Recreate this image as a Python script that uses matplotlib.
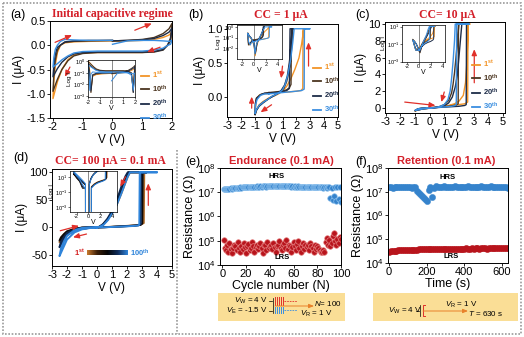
import numpy as np
import matplotlib
matplotlib.use("Agg")
import matplotlib.pyplot as plt
import matplotlib.ticker as mticker
from matplotlib.colors import LinearSegmentedColormap
from matplotlib.patches import Rectangle

plt.rcParams.update({
    "font.family": ["Liberation Sans", "DejaVu Sans"],
    "mathtext.fontset": "custom",
    "mathtext.rm": "Liberation Sans",
    "mathtext.it": "Liberation Sans:italic",
    "mathtext.bf": "Liberation Sans:bold",
    "axes.unicode_minus": False,
    "axes.linewidth": 0.7,
    "xtick.direction": "out", "ytick.direction": "out",
    "xtick.major.size": 2, "ytick.major.size": 2,
    "xtick.major.width": 0.6, "ytick.major.width": 0.6,
    "xtick.major.pad": 1.2, "ytick.major.pad": 1.2,
    "xtick.labelsize": 8, "ytick.labelsize": 8,
})

# ---------------------------------------------------------------------------
# Data
# ---------------------------------------------------------------------------

CYC_LABELS = [r"1$^{\mathbf{st}}$", r"10$^{\mathbf{th}}$",
              r"20$^{\mathbf{th}}$", r"30$^{\mathbf{th}}$"]

# (a) initial capacitive regime, I in uA
A_V = [0, 0.5, 1.0, 1.4, 1.7, 1.9, 2.0, 1.95, 1.85, 1.7, 1.4, 1.0, 0.5, 0,
       -0.5, -1.0, -1.3, -1.5, -1.7, -1.85, -2.0, -1.97, -1.92, -1.85,
       -1.75, -1.6, -1.3, -0.8, 0]
A_I_1ST = [0.08, 0.09, 0.10, 0.12, 0.16, 0.21, 0.27, 0.08, 0.003, -0.08,
           -0.13, -0.15, -0.15, -0.15, -0.15, -0.16, -0.20, -0.30, -0.50,
           -0.75, -1.10, -0.75, -0.40, -0.15, -0.002, 0.05, 0.07, 0.08, 0.09]
A_I_10TH = [0.09, 0.10, 0.12, 0.16, 0.24, 0.34, 0.45, 0.15, 0.002, -0.10,
            -0.14, -0.15, -0.15, -0.15, -0.15, -0.17, -0.22, -0.32, -0.50,
            -0.70, -0.95, -0.60, -0.30, -0.10, 0.003, 0.06, 0.08, 0.09, 0.10]
A_I_20TH = [0.09, 0.10, 0.11, 0.14, 0.20, 0.27, 0.35, 0.10, -0.002, -0.09,
            -0.13, -0.14, -0.14, -0.14, -0.14, -0.15, -0.18, -0.24, -0.35,
            -0.48, -0.65, -0.40, -0.18, -0.04, 0.002, 0.07, 0.09, 0.10, 0.10]
A_I_30TH = [0.02, 0.09, 0.10, 0.10, 0.09, 0.08, 0.10, 0.02, -0.003, -0.06,
            -0.10, -0.12, -0.12, -0.12, -0.12, -0.13, -0.16, -0.22, -0.30,
            -0.38, -0.45, -0.25, -0.08, 0.003, 0.08, 0.12, 0.11, 0.10, 0.10]

# (b) CC = 1 uA
B_V_1ST = [0, 0.5, 1.0, 1.5, 2.0, 2.35, 2.48, 2.5, 2.7, 2.55, 2.4, 2.2, 1.9,
           1.6, 1.3, 1.0, 0.7, 0.4, 0.25, 0.0, -0.4, -0.7, -0.9, -1.0, -0.97,
           -0.9, -0.7, -0.4, 0]
B_I_1ST = [0.05, 0.06, 0.07, 0.07, 0.08, 0.09, 0.12, 1.0, 1.0, 1.0, 0.78,
           0.57, 0.40, 0.26, 0.15, 0.08, 0.04, 0.01, 0.002, -0.02, -0.07,
           -0.12, -0.19, -0.26, -0.12, -0.03, 0.02, 0.04, 0.05]
B_V_10TH = [0, 0.5, 1.0, 1.3, 1.5, 1.62, 1.65, 1.8, 1.75, 1.7, 1.6, 1.45,
            1.3, 1.1, 0.8, 0.5, 0.25, 0, -0.4, -0.7, -0.9, -1.0, -0.97,
            -0.9, -0.6, -0.3, 0]
B_I_10TH = [0.06, 0.07, 0.08, 0.10, 0.13, 0.18, 1.0, 1.0, 1.0, 0.80, 0.55,
            0.35, 0.22, 0.12, 0.06, 0.03, 0.003, -0.03, -0.08, -0.13, -0.20,
            -0.27, -0.10, -0.02, 0.03, 0.05, 0.06]
B_V_20TH = [0, 0.5, 1.0, 1.3, 1.5, 1.55, 1.75, 1.7, 1.62, 1.5, 1.35, 1.15,
            0.9, 0.6, 0.3, 0, -0.4, -0.7, -0.9, -1.0, -0.97, -0.9, -0.6,
            -0.3, 0]
B_I_20TH = [0.05, 0.06, 0.07, 0.09, 0.12, 1.0, 1.0, 1.0, 0.75, 0.50, 0.30,
            0.17, 0.09, 0.04, 0.004, -0.03, -0.09, -0.14, -0.20, -0.26,
            -0.10, -0.03, 0.03, 0.05, 0.05]
B_V_30TH = [0, 0.5, 1.0, 1.5, 2.0, 2.4, 2.58, 2.6, 3.0, 2.4, 1.85, 1.75,
            1.6, 1.4, 1.2, 1.0, 0.7, 0.4, 0.2, 0, -0.4, -0.7, -0.9, -1.0,
            -0.97, -0.85, -0.6, -0.3, 0]
B_I_30TH = [0.04, 0.05, 0.06, 0.07, 0.08, 0.09, 0.11, 1.0, 1.0, 1.0, 1.0,
            0.80, 0.55, 0.33, 0.18, 0.10, 0.05, 0.02, 0.003, -0.03, -0.08,
            -0.13, -0.19, -0.25, -0.12, -0.04, 0.02, 0.04, 0.04]

# (c) CC = 10 uA
C_V_1ST = [0, 0.5, 1.0, 1.5, 2.0, 2.4, 2.6, 2.62, 2.75, 2.65, 2.6, 2.55,
           2.45, 2.3, 2.0, 1.7, 1.3, 1.0, 0.6, 0.2, 0, -0.4, -0.7, -1.0,
           -0.8, -0.5, 0]
C_I_1ST = [0.02, 0.10, 0.20, 0.30, 0.40, 0.50, 0.70, 10, 10, 10, 8.0, 5.5,
           3.0, 1.5, 0.8, 0.5, 0.3, 0.2, 0.08, 0.01, -0.02, -0.10, -0.20,
           -0.35, -0.10, -0.02, 0.02]
C_V_10TH = [0, 0.5, 1.0, 1.5, 1.8, 1.95, 1.97, 2.1, 2.0, 1.9, 1.8, 1.7,
            1.6, 1.5, 1.3, 1.0, 0.6, 0.2, 0, -0.4, -0.7, -1.0, -0.8, -0.5, 0]
C_I_10TH = [0.02, 0.08, 0.15, 0.25, 0.35, 0.50, 10, 10, 10, 8.0, 6.0, 4.2,
            2.8, 1.8, 0.9, 0.4, 0.12, 0.02, -0.03, -0.10, -0.20, -0.35,
            -0.12, -0.03, 0.02]
C_V_20TH = [0, 0.5, 1.0, 1.5, 2.0, 2.4, 2.5, 2.52, 2.65, 2.4, 2.2, 2.1,
            2.0, 1.9, 1.75, 1.55, 1.3, 1.0, 0.6, 0.2, 0, -0.4, -0.7, -1.0,
            -0.8, -0.5, 0]
C_I_20TH = [0.02, 0.05, 0.10, 0.15, 0.20, 0.30, 0.40, 10, 10, 10, 10, 8.0,
            6.0, 4.0, 2.5, 1.3, 0.6, 0.25, 0.08, 0.01, -0.02, -0.10, -0.20,
            -0.30, -0.10, -0.02, 0.02]
C_V_30TH = [0, 0.5, 1.0, 1.5, 1.75, 1.82, 1.85, 2.7, 1.75, 1.7, 1.6, 1.5,
            1.4, 1.25, 1.0, 0.6, 0.2, 0, -0.4, -0.7, -1.0, -0.8, -0.5, 0]
C_I_30TH = [0.02, 0.06, 0.12, 0.20, 0.30, 0.45, 10, 10, 10, 8.0, 5.5, 3.5,
            2.0, 1.0, 0.4, 0.10, 0.02, -0.02, -0.10, -0.20, -0.30, -0.10,
            -0.02, 0.02]

# (d) CC = 100 uA, cycles 1 -> 100
D_V_1 = [0, 0.5, 1.0, 1.5, 2.0, 2.5, 2.9, 3.12, 3.15, 3.3, 2.6, 2.2, 2.05,
         1.85, 1.6, 1.3, 1.0, 0.7, 0.4, 0.15, 0, -0.5, -1.0, -1.5, -2.0,
         -2.5, -2.4, -2.2, -2.0, -1.5, -1.0, -0.5, 0]
D_I_1 = [0, 0.5, 1.2, 2.0, 2.8, 3.8, 5.0, 8.0, 100, 100, 100, 100, 92, 78,
         60, 40, 26, 14, 5, 1, 0, -0.8, -2, -5, -11, -27, -20, -13, -8, -3,
         -0.5, 0.3, 0]
D_V_2 = [0, 0.5, 1.0, 1.5, 2.0, 2.5, 2.9, 3.02, 3.05, 3.3, 2.5, 2.1, 1.95,
         1.75, 1.5, 1.25, 1.0, 0.7, 0.4, 0.15, 0, -0.5, -1.0, -1.5, -2.0,
         -2.5, -2.4, -2.2, -2.0, -1.5, -1.0, -0.5, 0]
D_I_2 = [0, 0.4, 1.0, 1.8, 2.5, 3.3, 4.5, 7.0, 100, 100, 100, 100, 93, 78,
         58, 40, 27, 14, 5, 1, 0, -0.8, -2, -4.5, -10, -24, -18, -12, -7,
         -2.5, -0.3, 0.3, 0]
D_V_3 = [0, 0.5, 1.0, 1.5, 2.0, 2.5, 2.8, 2.92, 2.95, 3.3, 2.5, 2.05, 1.9,
         1.7, 1.45, 1.2, 1.0, 0.7, 0.4, 0.15, 0, -0.5, -1.0, -1.5, -2.0,
         -2.5, -2.4, -2.2, -2.0, -1.5, -1.0, -0.5, 0]
D_I_3 = [0, 0.4, 0.9, 1.6, 2.3, 3.2, 4.2, 6.0, 100, 100, 100, 100, 93, 80,
         60, 42, 30, 16, 6, 1.2, 0, -0.9, -2.5, -6, -14, -36, -26, -17, -10,
         -3.5, -0.5, 0.3, 0]
D_V_4 = [0, 0.5, 1.0, 1.5, 2.0, 2.4, 2.75, 2.82, 2.85, 4.0, 2.6, 2.2, 2.05,
         1.85, 1.6, 1.3, 1.05, 0.75, 0.45, 0.15, 0, -0.5, -1.0, -1.5, -2.0,
         -2.5, -2.4, -2.2, -2.0, -1.5, -1.0, -0.5, 0]
D_I_4 = [0, 0.3, 0.8, 1.4, 2.0, 2.6, 3.5, 5.0, 100, 100, 100, 100, 92, 78,
         60, 40, 27, 14, 5, 1, 0, -1.2, -3.5, -9, -22, -52, -38, -25, -15,
         -5, -1, 0.2, 0]

# (e) endurance, 100 cycles; HRS in 1e7 ohm, LRS in 1e4 ohm
E_HRS = [1.30, 1.35, 1.30, 1.40, 1.35, 1.40, 1.45, 1.40, 1.50, 1.45,
         1.50, 1.55, 1.50, 1.55, 1.60, 1.55, 1.60, 1.60, 1.65, 1.60,
         1.60, 1.65, 1.70, 1.65, 1.70, 1.70, 1.65, 1.70, 1.75, 1.70,
         1.70, 1.75, 1.70, 1.75, 1.80, 1.75, 1.70, 1.75, 1.80, 1.75,
         1.80, 1.75, 1.80, 1.80, 1.75, 1.80, 1.85, 1.80, 1.75, 1.80,
         1.80, 1.75, 1.80, 1.80, 1.75, 1.80, 1.75, 1.70, 1.75, 1.70,
         1.75, 1.70, 1.70, 1.75, 1.70, 1.65, 1.70, 1.70, 1.65, 1.70,
         1.65, 1.70, 1.65, 1.65, 1.60, 1.65, 1.60, 1.65, 1.60, 1.60,
         1.60, 1.65, 1.60, 1.60, 1.55, 1.60, 1.60, 1.55, 1.60, 1.60,
         0.60, 1.50, 0.50, 0.70, 1.60, 0.45, 1.70, 0.55, 1.60, 0.40]
E_LRS = [11, 5, 4, 6.5, 3.5, 8, 4.5, 3, 5, 7,
         6, 4, 9, 5, 3.5, 6, 4.5, 8, 5.5, 3,
         6, 7.5, 4, 5, 9, 6, 3.5, 5.5, 7, 4.5,
         6, 8, 5, 3, 7, 6.5, 4, 9, 5, 6,
         7, 4.5, 8, 5.5, 3.5, 6, 7, 10, 5, 4,
         6.5, 8, 5, 11, 4.5, 7, 6, 3.5, 5.5, 9,
         6, 4, 7.5, 10, 5, 3.5, 6, 8, 4.5, 7,
         5.5, 6.5, 4, 8, 6, 5, 3.5, 7, 4.5, 6,
         5, 4, 3.5, 3.5, 4, 3.5, 9, 13, 7, 11,
         6, 8, 15, 20, 10, 7, 12, 8, 14, 12]

# (f) retention, every 10 s from 0 to 630 s
F_HRS = [1.55, 1.60, 1.50, 1.60, 1.55, 1.60, 1.65, 1.55, 1.60, 1.55,
         1.60, 1.55, 1.50, 1.60, 1.60, 1.10, 0.90, 0.75, 0.60, 0.50,
         0.40, 1.20, 1.60, 0.60, 1.50, 1.70, 1.65, 1.60, 1.65, 1.70,
         1.65, 1.60, 1.65, 1.65, 1.60, 1.70, 1.65, 1.60, 1.65, 1.65,
         1.60, 1.65, 1.70, 1.65, 1.60, 1.65, 1.65, 1.60, 1.65, 1.70,
         1.65, 1.60, 1.65, 1.65, 1.70, 1.65, 1.60, 1.65, 1.65, 1.60,
         1.65, 1.60, 1.55, 1.50]
F_LRS = [3.0, 3.1, 3.2, 3.3, 3.3, 3.4, 3.4, 3.5, 3.5, 3.5,
         3.6, 3.6, 3.6, 3.7, 3.7, 3.7, 3.8, 3.8, 3.9, 4.0,
         3.9, 3.8, 3.8, 3.8, 3.8, 3.9, 3.8, 3.9, 3.9, 3.9,
         3.9, 4.0, 3.9, 4.0, 4.0, 3.9, 4.0, 4.0, 4.0, 4.0,
         4.0, 4.1, 4.0, 4.0, 4.1, 4.0, 4.1, 4.1, 4.0, 4.1,
         4.1, 4.1, 4.0, 4.1, 4.1, 4.1, 4.1, 4.2, 4.1, 4.1,
         4.1, 4.2, 4.1, 4.2]

# ---------------------------------------------------------------------------
# Style
# ---------------------------------------------------------------------------

ORANGE = "#F29427"
BROWN = "#4B3520"
NAVY = "#1D2C48"
BLUE = "#3A8EE0"
ARROW_RED = "#E0302A"
TITLE_RED = "#D4202A"
HRS_BLUE = "#3583CC"
LRS_RED = "#B8141C"
CYC_COLORS = [ORANGE, BROWN, NAVY, BLUE]
GRAD = LinearSegmentedColormap.from_list(
    "cyc", ["#C97B2E", "#3A1E08", "#050505", "#0F2B58", "#2F84DA"])

W, H = 524, 337
fig = plt.figure(figsize=(W / 100, H / 100), dpi=100)


def box(l, t, r, b):
    """Axes from pixel edges (origin top-left)."""
    return fig.add_axes([l / W, 1 - b / H, (r - l) / W, (b - t) / H])


def arrow(ax, tail, head):
    ax.annotate("", xy=head, xytext=tail,
                arrowprops=dict(arrowstyle="-|>,head_length=0.35,head_width=0.15",
                                color=ARROW_RED, lw=0.9, shrinkA=0, shrinkB=0))


def inset(l, t, r, b, curves, xlim, ylim, yticks, xticks):
    ia = box(l, t, r, b)
    for v, i, c in curves:
        ia.plot(v, np.abs(i), color=c, lw=0.7)
    ia.set_yscale("log")
    ia.axvline(0, color="#777777", lw=0.6, zorder=0)
    ia.set_xlim(*xlim)
    ia.set_ylim(*ylim)
    ia.set_yticks(yticks)
    ia.yaxis.set_minor_locator(mticker.NullLocator())
    ia.set_xticks(xticks)
    ia.tick_params(labelsize=4, length=1.2, width=0.4, pad=0.6)
    ia.set_ylabel("Log I", fontsize=4.5, labelpad=0.5)
    ia.set_xlabel("V", fontsize=5, labelpad=0)
    for s in ia.spines.values():
        s.set_linewidth(0.5)
    return ia


def cycle_legend(ax, px, py, axbox):
    l, t, r, b = axbox
    leg = ax.legend(loc="upper left",
                    bbox_to_anchor=((px - l) / (r - l), (b - py) / (b - t)),
                    frameon=False, handlelength=1.0,
                    handletextpad=0.4, labelspacing=0.4, borderpad=0,
                    borderaxespad=0, labelcolor=CYC_COLORS,
                    prop={"weight": "bold", "size": 5.5})
    for ln in leg.get_lines():
        ln.set_linewidth(1.3)


def log_decades(ax):
    ax.set_ylim(1e4, 1e8)
    ax.set_yticks([1e4, 1e5, 1e6, 1e7, 1e8])
    ax.yaxis.set_minor_locator(mticker.NullLocator())


# ---------------------------------------------------------------------------
# (a)
# ---------------------------------------------------------------------------
BOX_A = (50, 21, 172, 118)
ax = box(*BOX_A)
a_curves = [(A_V, i, c) for i, c in zip([A_I_1ST, A_I_10TH, A_I_20TH, A_I_30TH], CYC_COLORS)]
for (v, i, c), lab in zip(a_curves, CYC_LABELS):
    ax.plot(v, i, color=c, lw=1.0, label=lab)
ax.set_xlim(-2.1, 2.0)
ax.set_ylim(-1.5, 0.5)
ax.set_xticks([-2, -1, 0, 1, 2])
ax.set_yticks([-1.5, -1.0, -0.5, 0.0, 0.5])
ax.yaxis.set_major_formatter(mticker.FormatStrFormatter("%.1f"))
ax.set_xlabel("V (V)", fontsize=8.5, labelpad=1)
ax.set_ylabel("I (μA)", fontsize=8.5, labelpad=1)
arrow(ax, (-1.93, 0.06), (-1.36, 0.21))
arrow(ax, (0.75, 0.31), (1.32, 0.45))
arrow(ax, (1.6, -0.04), (1.16, -0.14))
arrow(ax, (-1.43, -0.45), (-1.6, -0.65))
cycle_legend(ax, 141, 70, BOX_A)
inset(88, 60, 135, 97, a_curves, (-2, 2), (8e-4, 1.3),
      [1e0, 1e-1, 1e-2, 1e-3], [-2, -1, 0, 1, 2])

# ---------------------------------------------------------------------------
# (b)
# ---------------------------------------------------------------------------
BOX_B = (227, 24, 338, 117)
ax = box(*BOX_B)
b_curves = list(zip([B_V_1ST, B_V_10TH, B_V_20TH, B_V_30TH],
                    [B_I_1ST, B_I_10TH, B_I_20TH, B_I_30TH], CYC_COLORS))
for (v, i, c), lab in zip(b_curves, CYC_LABELS):
    ax.plot(v, i, color=c, lw=1.0, label=lab)
ax.set_xlim(-3.05, 5.05)
ax.set_ylim(-0.3, 1.07)
ax.set_xticks(range(-3, 6))
ax.set_yticks([0.0, 0.5, 1.0])
ax.yaxis.set_major_formatter(mticker.FormatStrFormatter("%.1f"))
ax.set_xlabel("V (V)", fontsize=8.5, labelpad=1)
ax.set_ylabel("I (μA)", fontsize=8.5, labelpad=1)
arrow(ax, (-1.25, -0.17), (-1.25, 0.0))
arrow(ax, (0.2, -0.12), (-0.6, -0.23))
arrow(ax, (1.0, 0.45), (0.9, 0.27))
arrow(ax, (2.9, 0.45), (2.9, 0.8))
cycle_legend(ax, 313, 62, BOX_B)
inset(237, 25, 282, 59, b_curves, (-2.8, 4.7), (1e-3, 1.5),
      [1e0, 1e-1, 1e-2], [-2, 0, 2, 4])

# ---------------------------------------------------------------------------
# (c)
# ---------------------------------------------------------------------------
BOX_C = (385, 22, 505, 113)
ax = box(*BOX_C)
c_curves = list(zip([C_V_1ST, C_V_10TH, C_V_20TH, C_V_30TH],
                    [C_I_1ST, C_I_10TH, C_I_20TH, C_I_30TH], CYC_COLORS))
for (v, i, c), lab in zip(c_curves, CYC_LABELS):
    ax.plot(v, i, color=c, lw=1.0, label=lab)
ax.set_xlim(-3.05, 5.15)
ax.set_ylim(-0.6, 10.24)
ax.set_xticks(range(-3, 6))
ax.set_yticks(range(0, 11, 2))
ax.set_xlabel("V (V)", fontsize=8.5, labelpad=1)
ax.set_ylabel("I (μA)", fontsize=8.5, labelpad=1)
arrow(ax, (-1.7, 0.7), (0.4, 0.3))
arrow(ax, (0.6, -1.2), (-0.3, -1.0))
arrow(ax, (1.0, 1.9), (0.8, 0.7))
arrow(ax, (3.05, 3.0), (3.05, 7.0))
cycle_legend(ax, 472, 59, BOX_C)
inset(402, 25, 445, 62, c_curves, (-2.8, 4.4), (9e-4, 15),
      [1e1, 1e-1, 1e-3], [-2, 0, 2, 4])

# ---------------------------------------------------------------------------
# (d)
# ---------------------------------------------------------------------------
BOX_D = (52, 169, 172, 266)
ax = box(*BOX_D)
d_colors = [GRAD(0.05), GRAD(0.45), GRAD(0.72), GRAD(1.0)]
d_curves = list(zip([D_V_1, D_V_2, D_V_3, D_V_4],
                    [D_I_1, D_I_2, D_I_3, D_I_4], d_colors))
for v, i, c in d_curves:
    ax.plot(v, i, color=c, lw=1.4)
ax.set_xlim(-3, 5)
ax.set_ylim(-70, 106)
ax.set_xticks(range(-3, 6))
ax.set_yticks([-50, 0, 50, 100])
ax.set_xlabel("V (V)", fontsize=8.5, labelpad=1)
ax.set_ylabel("I (μA)", fontsize=8.5, labelpad=1)
arrow(ax, (-2.45, -6), (-1.2, 3))
arrow(ax, (-0.7, -12), (-1.6, -18))
arrow(ax, (1.9, 92), (1.55, 74))
arrow(ax, (3.42, 40), (3.42, 80))
inset(70, 171, 117, 212, d_curves, (-3.1, 4.8), (2e-4, 60),
      [1e1, 1e-1, 1e-3], [-2, 0, 2, 4])
cb = box(87, 250, 128, 255)
cb.imshow(np.linspace(0, 1, 256)[None, :], aspect="auto", cmap=GRAD)
cb.set_axis_off()

# ---------------------------------------------------------------------------
# (e)
# ---------------------------------------------------------------------------
ax = box(220, 168, 341, 265)
cycles = np.arange(1, len(E_HRS) + 1)
ax.semilogy(cycles, np.array(E_HRS) * 1e7, "o", ms=4, mfc=HRS_BLUE,
            mec="#8EC2EE", mew=0.5)
ax.semilogy(cycles, np.array(E_LRS) * 1e4, "o", ms=4, mfc=LRS_RED,
            mec="#E58080", mew=0.5)
ax.set_xlim(-2, 100)
log_decades(ax)
ax.set_xticks(range(0, 101, 20))
ax.set_xlabel("Cycle number (N)", fontsize=9, labelpad=0.5)
ax.set_ylabel("Resistance (Ω)", fontsize=9, labelpad=0.5)
ax.text(0.47, 0.91, "HRS", transform=ax.transAxes, ha="center", va="center",
        fontsize=5.5, fontweight="bold")
ax.text(0.51, 0.075, "LRS", transform=ax.transAxes, ha="center", va="center",
        fontsize=5.5, fontweight="bold")

# ---------------------------------------------------------------------------
# (f)
# ---------------------------------------------------------------------------
ax = box(388, 168, 508, 263)
times = np.arange(0, 10 * len(F_HRS), 10)
ax.semilogy(times, np.array(F_HRS) * 1e7, "o", ms=4.5, mfc=HRS_BLUE,
            mec=HRS_BLUE, mew=0.3)
ax.semilogy(times, np.array(F_LRS) * 1e4, "o", ms=4.5, mfc=LRS_RED,
            mec=LRS_RED, mew=0.3)
ax.set_xlim(-5, 632)
log_decades(ax)
ax.set_xticks([0, 200, 400, 600])
ax.set_xlabel("Time (s)", fontsize=9, labelpad=0.5)
ax.set_ylabel("Resistance (Ω)", fontsize=9, labelpad=0.5)
ax.text(0.5, 0.9, "HRS", transform=ax.transAxes, ha="center", va="center",
        fontsize=5.5, fontweight="bold")
ax.text(0.525, 0.066, "LRS", transform=ax.transAxes, ha="center", va="center",
        fontsize=5.5, fontweight="bold")

# ---------------------------------------------------------------------------
# Overlay: frames, panel letters, titles, schematics
# ---------------------------------------------------------------------------
ov = fig.add_axes([0, 0, 1, 1])
ov.set_xlim(0, W)
ov.set_ylim(H, 0)
ov.set_axis_off()

dot = dict(color="#9A9A9A", lw=1.2, ls=(0, (1, 1)))
ov.add_patch(Rectangle((2.5, 2.5), 518, 331, fill=False, **dot))
ov.plot([177, 177], [150, 333.5], **dot)

for txt, x, y in [("(a)", 10, 15), ("(b)", 188, 15), ("(c)", 355, 15),
                  ("(d)", 13, 158), ("(e)", 185, 162), ("(f)", 355, 162)]:
    ov.text(x, y, txt, fontsize=9, va="center", ha="left")

serif_title = dict(family=["Liberation Serif", "DejaVu Serif"], fontweight="bold",
                   color=TITLE_RED, fontsize=8.5, ha="center", va="center")
ov.text(112, 14, "Initial capacitive regime", **serif_title)
ov.text(281, 15, "CC = 1 μA", **serif_title)
ov.text(447, 15, "CC= 10 μA", **serif_title)
ov.text(110, 161, "CC= 100 μA = 0.1 mA", **serif_title)
ov.text(281, 161, "Endurance (0.1 mA)", fontweight="bold", color=TITLE_RED,
        fontsize=8, ha="center", va="center")
ov.text(446, 161, "Retention (0.1 mA)", fontweight="bold", color=TITLE_RED,
        fontsize=8, ha="center", va="center")

# colour-bar labels of (d)
ov.text(85, 253, r"1$^{\mathbf{st}}$", color="#D42020", fontweight="bold",
        fontsize=5.5, ha="right", va="center")
ov.text(130, 253, r"100$^{\mathbf{th}}$", color="#2F84DA", fontweight="bold",
        fontsize=5.5, ha="left", va="center")

SCH_FILL = "#FADE96"
SCH_ORANGE = "#E8812A"
PULSE_BLUE = "#3A8EE0"
small = dict(fontsize=5.8, va="center")

# (e) schematic
ov.add_patch(Rectangle((218, 293), 127, 28, fc=SCH_FILL, ec="none"))
ov.text(268, 301, r"$V_\mathrm{W}$ = 4 V", ha="right", **small)
ov.text(268, 311, r"$V_\mathrm{E}$ = -1.5 V", ha="right", **small)
ov.plot([268.5, 272], [301, 301], color="k", lw=0.5)
ov.plot([268.5, 272], [311, 311], color="k", lw=0.5)
ov.plot([272.5, 272.5], [298, 313], color="k", lw=0.5)
for x in [275, 277, 279, 281, 283]:
    ov.plot([x, x], [297, 305], color=ARROW_RED, lw=0.7)
    ov.plot([x, x], [307, 313], color=PULSE_BLUE, lw=0.7)
ov.plot([284, 297], [301, 301], color=ARROW_RED, lw=0.6, ls=(0, (2, 1.2)))
ov.plot([284, 297], [310, 310], color=PULSE_BLUE, lw=0.6, ls=(0, (2, 1.2)))
ov.annotate("", xy=(314, 306), xytext=(275, 306),
            arrowprops=dict(arrowstyle="-|>,head_length=0.3,head_width=0.12",
                            color=SCH_ORANGE, lw=0.7, shrinkA=0, shrinkB=0))
ov.text(314, 304, r"$N$= 100", ha="left", **small)
ov.text(300, 314, r"$V_\mathrm{R}$ = 1 V", ha="left", **small)

# (f) schematic
ov.add_patch(Rectangle((373, 293), 145, 28, fc=SCH_FILL, ec="none"))
ov.text(388, 311, r"$V_\mathrm{W}$ = 4 V", ha="left", **small)
ov.plot([416, 419], [311, 311], color="k", lw=0.5)
ov.plot([419.5, 419.5], [305, 316], color="k", lw=0.5)
ov.plot([425, 422.5, 422.5, 425], [305, 305, 316, 316], color=ARROW_RED, lw=0.7)
ov.annotate("", xy=(468, 311), xytext=(423, 311),
            arrowprops=dict(arrowstyle="-|>,head_length=0.3,head_width=0.12",
                            color=SCH_ORANGE, lw=0.7, shrinkA=0, shrinkB=0))
ov.text(445, 304.5, r"$V_\mathrm{R}$ = 1 V", ha="left", **small)
ov.text(468, 313, r"$T$ = 630 s", ha="left", **small)

fig.savefig("out.png", dpi=100)
